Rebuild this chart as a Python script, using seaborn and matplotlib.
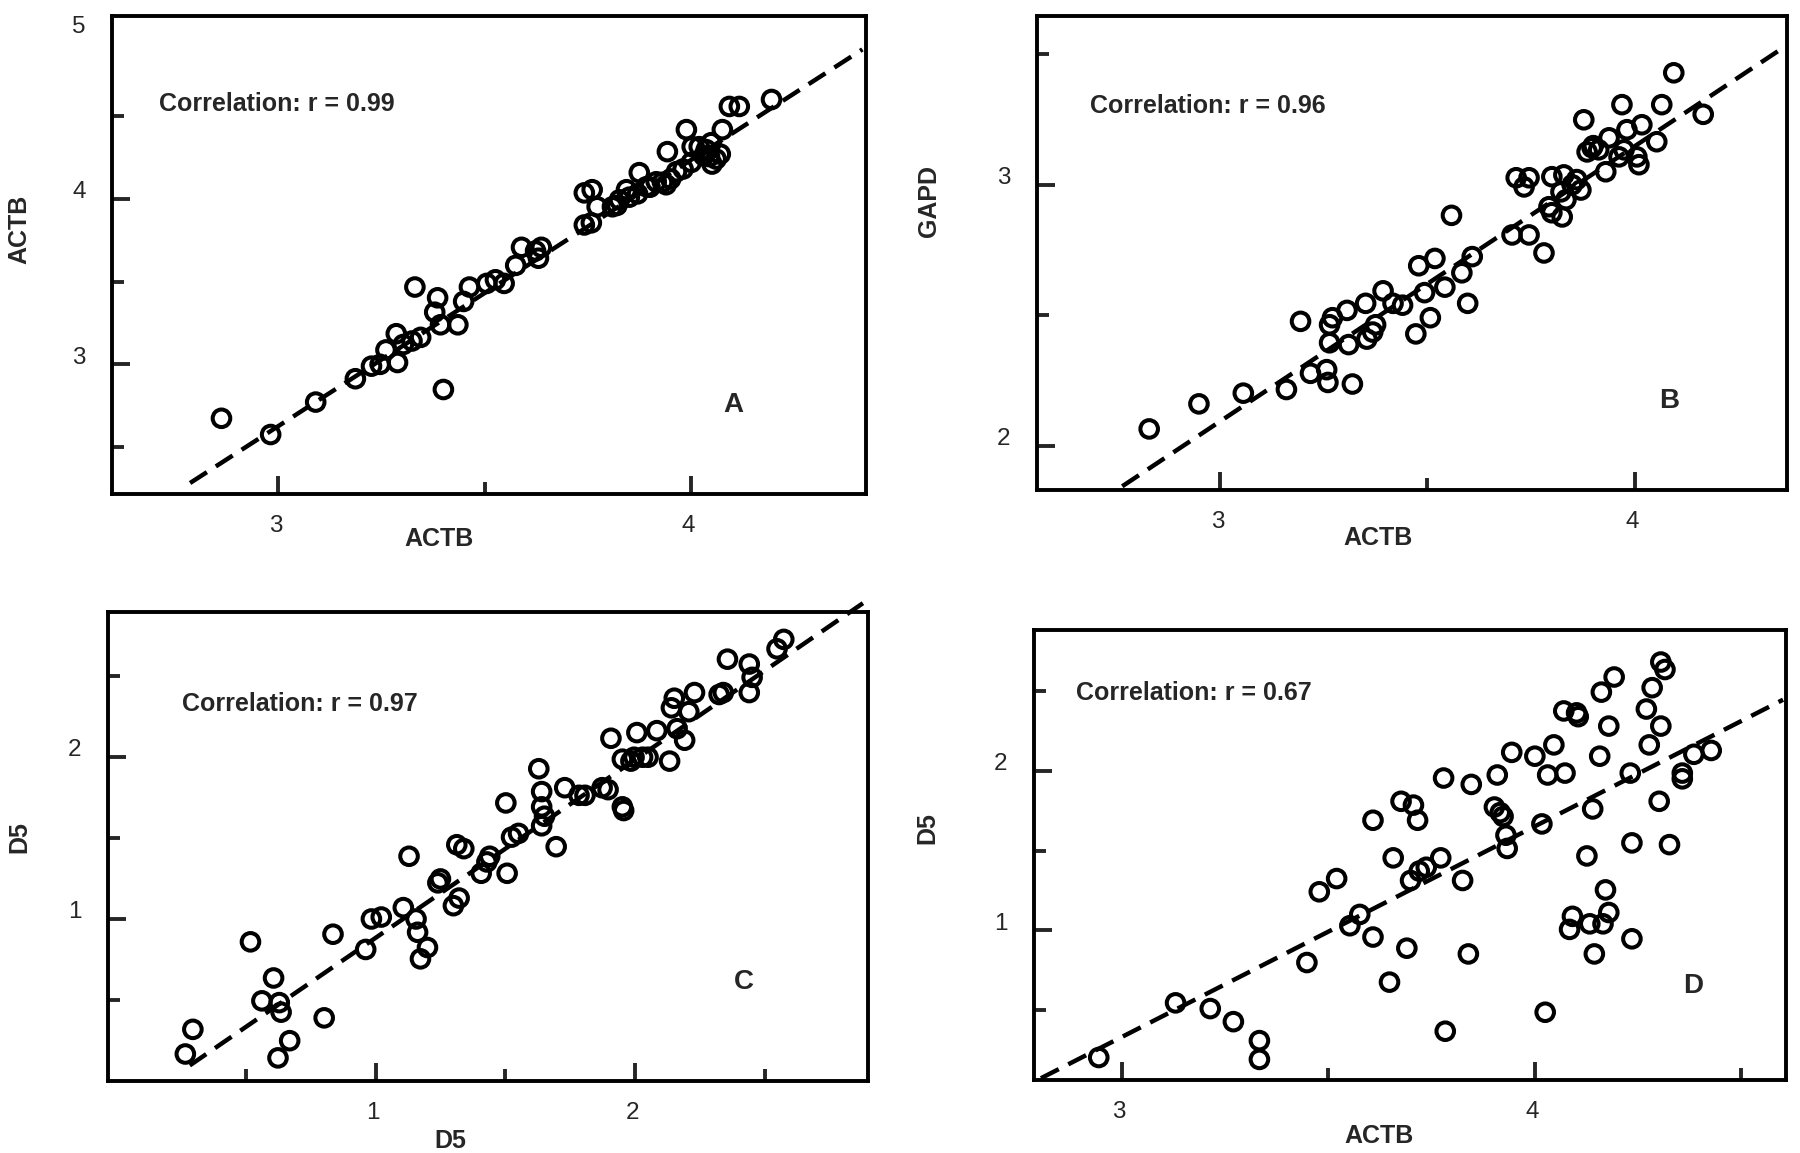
import numpy as np
import pandas as pd
import matplotlib
matplotlib.use("Agg")
import matplotlib.pyplot as plt
import matplotlib.transforms as mtransforms
import seaborn as sns

# ---- panel A: ACTB vs ACTB ----
a_x = [2.863, 2.982, 3.091, 3.187, 3.226, 3.247, 3.261, 3.289, 3.286, 3.303, 3.324, 3.345, 3.331, 3.386,
       3.379, 3.393, 3.435, 3.400, 3.449, 3.463, 3.505, 3.526, 3.547, 3.575, 3.589, 3.623, 3.630, 3.637,
       3.741, 3.760, 3.772, 3.741, 3.758, 3.809, 3.826, 3.843, 3.874, 3.891, 3.915, 3.939, 3.942, 3.964,
       3.988, 4.002, 4.019, 4.036, 4.044, 4.048, 4.075, 4.092, 4.116, 4.194,
       3.82, 3.85, 3.87, 3.90, 3.93, 3.95, 3.98, 4.00, 4.03, 4.06, 4.07, 4.05]
a_y = [2.674, 2.576, 2.772, 2.913, 2.989, 3.000, 3.087, 3.011, 3.185, 3.120, 3.141, 3.163, 3.467, 3.402,
       3.315, 3.239, 3.239, 2.848, 3.380, 3.467, 3.489, 3.511, 3.489, 3.598, 3.707, 3.685, 3.641, 3.707,
       4.036, 4.055, 3.952, 3.842, 3.855, 3.952, 3.994, 4.055, 4.158, 4.073, 4.103, 4.085, 4.285, 4.164,
       4.418, 4.315, 4.315, 4.297, 4.255, 4.339, 4.418, 4.558, 4.558, 4.600,
       3.96, 4.01, 4.03, 4.07, 4.10, 4.12, 4.18, 4.22, 4.26, 4.24, 4.27, 4.21]

# ---- panel B: GAPD vs ACTB ----
b_x = [2.829, 2.949, 3.056, 3.160, 3.194, 3.218, 3.257, 3.260, 3.319, 3.264, 3.264, 3.271, 3.306, 3.310,
       3.354, 3.351, 3.368, 3.375, 3.393, 3.417, 3.440, 3.472, 3.479, 3.493, 3.507, 3.518, 3.542, 3.558,
       3.583, 3.597, 3.608,
       4.094, 3.969, 4.065, 4.165, 3.877, 4.017, 3.981, 4.053, 3.938, 3.897, 3.885, 3.913, 3.974, 4.005,
       4.010, 3.930, 3.962, 3.714, 3.745, 3.733, 3.800, 3.829, 3.849, 3.822, 3.834, 3.793, 3.800, 3.825,
       3.704, 3.745, 3.781, 3.900, 3.860, 3.870]
b_y = [2.065, 2.161, 2.202, 2.216, 2.477, 2.278, 2.292, 2.243, 2.237, 2.395, 2.464, 2.491, 2.519, 2.388,
       2.409, 2.546, 2.436, 2.464, 2.594, 2.546, 2.539, 2.429, 2.690, 2.587, 2.491, 2.718, 2.608, 2.883,
       2.663, 2.546, 2.725,
       3.429, 3.307, 3.307, 3.270, 3.249, 3.230, 3.211, 3.165, 3.180, 3.142, 3.126, 3.134, 3.134, 3.107,
       3.077, 3.050, 3.107, 3.027, 3.027, 2.992, 3.031, 3.038, 3.000, 2.973, 2.943, 2.916, 2.893, 2.877,
       2.808, 2.808, 2.739, 3.150, 3.020, 2.980]

# ---- panel C: D5 vs D5 ----
c_x = [0.267, 0.296, 0.518, 0.562, 0.607, 0.629, 0.636, 0.624, 0.669, 0.802, 0.836, 0.962, 0.984, 1.022,
       1.107, 1.129, 1.156, 1.162, 1.200, 1.173, 1.240, 1.250, 1.300, 1.322, 1.313, 1.340, 1.407, 1.429,
       1.440, 1.507, 1.502, 1.524, 1.551, 1.629, 1.640, 1.640, 1.640, 1.651, 1.696, 1.729, 1.784, 1.807,
       1.873, 1.896, 1.951, 1.956, 1.907, 1.951, 1.984, 1.996, 2.007, 2.029, 2.050, 2.084, 2.133, 2.151,
       2.140, 2.162, 2.191, 2.207, 2.229, 2.324, 2.340, 2.356, 2.440, 2.440, 2.451, 2.547, 2.573]
c_y = [0.167, 0.319, 0.859, 0.495, 0.636, 0.484, 0.425, 0.143, 0.249, 0.390, 0.906, 0.812, 1.000, 1.012,
       1.070, 1.387, 1.000, 0.918, 0.824, 0.754, 1.223, 1.247, 1.082, 1.129, 1.458, 1.434, 1.282, 1.352,
       1.387, 1.282, 1.716, 1.505, 1.528, 1.927, 1.786, 1.692, 1.575, 1.634, 1.446, 1.810, 1.763, 1.763,
       1.810, 1.798, 1.692, 1.669, 2.115, 1.986, 1.974, 1.998, 2.150, 1.998, 1.998, 2.162, 1.974, 2.362,
       2.303, 2.174, 2.103, 2.279, 2.397, 2.385, 2.397, 2.603, 2.573, 2.397, 2.491, 2.667, 2.725]

# ---- panel D: D5 vs ACTB ----
d_x = [2.944, 3.130, 3.214, 3.270, 3.333, 3.333, 3.448, 3.478, 3.520, 3.552, 3.576, 3.608, 3.608, 3.648,
       3.657, 3.676, 3.690, 3.699, 3.706, 3.716, 3.720, 3.737, 3.772, 3.779, 3.783, 3.825, 3.839, 3.846,
       3.909, 3.902, 3.916, 3.923, 3.930, 3.933, 3.944, 4.000, 4.017, 4.025, 4.031, 4.046, 4.073, 4.070,
       4.101, 4.105, 4.084, 4.091, 4.126, 4.133, 4.140, 4.144, 4.157, 4.161, 4.165, 4.171, 4.179, 4.179,
       4.192, 4.231, 4.235, 4.235, 4.270, 4.277, 4.284, 4.301, 4.305, 4.305, 4.315, 4.326, 4.357, 4.357,
       4.385, 4.427]
d_y = [0.201, 0.544, 0.508, 0.426, 0.307, 0.189, 0.797, 1.241, 1.324, 1.028, 1.099, 0.957, 1.690, 0.674,
       1.454, 1.809, 0.887, 1.312, 1.785, 1.690, 1.371, 1.395, 1.454, 1.955, 0.366, 1.312, 0.851, 1.915,
       1.974, 1.773, 1.738, 1.714, 1.596, 1.513, 2.116, 2.092, 1.667, 0.485, 1.974, 2.163, 1.986, 2.376,
       2.364, 2.340, 1.005, 1.087, 1.466, 1.040, 1.761, 0.851, 2.092, 2.494, 1.040, 1.253, 1.111, 2.281,
       2.589, 1.986, 1.548, 0.946, 2.388, 2.163, 2.522, 1.809, 2.281, 2.683, 2.636, 1.537, 1.986, 1.950,
       2.104, 2.128]

# regression lines as drawn in the figure: slope, intercept, x start, x end
a_fit = (1.610, -2.204, 2.787, 4.414)
b_fit = (1.054, -1.068, 2.764, 4.368)
c_fit = (1.0995, -0.216, 0.284, 2.878)
d_fit = (1.322, -3.636, 2.804, 4.601)

r_values = ["0.99", "0.96", "0.97", "0.67"]
letters = ["A", "B", "C", "D"]
xlabels = ["ACTB", "ACTB", "D5", "ACTB"]
ylabels = ["ACTB", "GAPD", "D5", "D5"]

sns.set_style("white")
plt.rcParams['font.family'] = ['Liberation Sans', 'DejaVu Sans']

fig = plt.figure(figsize=(18, 11.53), dpi=100)

panels = [
    dict(x=a_x, y=a_y, fit=a_fit, rect=[0.0622, 0.5716, 0.419, 0.4146],
         xlim=(2.598, 4.423), ylim=(2.217, 5.105),
         xt=[3, 4], xm=[3.5], yt=[3, 4, 5], ym=[2.5, 3.5, 4.5],
         txt=(0.062, 0.816), let=(0.824, 0.186), xl=(0.433, -0.094), yl=(-0.123, 0.554)),
    dict(x=b_x, y=b_y, fit=b_fit, rect=[0.576, 0.575, 0.417, 0.411],
         xlim=(2.558, 4.368), ylim=(1.831, 3.646),
         xt=[3, 4], xm=[3.5], yt=[2, 3], ym=[2.5, 3.5],
         txt=(0.071, 0.81), let=(0.843, 0.188), xl=(0.455, -0.101), yl=(-0.144, 0.61)),
    dict(x=c_x, y=c_y, fit=c_fit, rect=[0.06, 0.0624, 0.422, 0.4068],
         xlim=(-0.031, 2.896), ylim=(0.0, 2.894),
         xt=[1, 2], xm=[0.5, 1.5, 2.5], yt=[1, 2], ym=[0.5, 1.5, 2.5],
         txt=(0.097, 0.804), let=(0.837, 0.211), xl=(0.45, -0.128), yl=(-0.117, 0.52)),
    dict(x=d_x, y=d_y, fit=d_fit, rect=[0.5744, 0.0632, 0.4178, 0.3904],
         xlim=(2.787, 4.608), ylim=(0.059, 2.884),
         xt=[3, 4], xm=[3.5, 4.5], yt=[1, 2], ym=[0.5, 1.5, 2.5],
         txt=(0.056, 0.861), let=(0.876, 0.209), xl=(0.459, -0.125), yl=(-0.142, 0.559)),
]

# tick labels in the original sit a little above / left of their ticks
lift = mtransforms.ScaledTranslation(-2 / 72, 6.5 / 72, fig.dpi_scale_trans)
nudge = mtransforms.ScaledTranslation(-2 / 72, 0, fig.dpi_scale_trans)

for i, p in enumerate(panels):
    ax = fig.add_axes(p["rect"])
    df = pd.DataFrame({"x": p["x"], "y": p["y"]})
    sns.scatterplot(data=df, x="x", y="y", ax=ax, marker="o", s=160,
                    facecolor="none", edgecolor="black", color="black", linewidth=2.9)
    slope, icpt, x0, x1 = p["fit"]
    fx = np.array([x0, x1])
    ax.plot(fx, slope * fx + icpt, color="black", lw=3.2, dashes=(4.5, 2.4), clip_on=False)

    ax.set_xlim(*p["xlim"])
    ax.set_ylim(*p["ylim"])
    ax.set_xticks(p["xt"])
    ax.set_xticklabels([str(v) for v in p["xt"]])
    ax.set_xticks(p["xm"], minor=True)
    ax.set_yticks(p["yt"])
    ax.set_yticklabels([str(v) for v in p["yt"]])
    ax.set_yticks(p["ym"], minor=True)
    ax.tick_params(which="major", direction="in", length=13, width=2.8, labelsize=17.5)
    ax.tick_params(which="minor", direction="in", length=8.5, width=2.8)
    ax.tick_params(axis="x", which="both", pad=15, bottom=True, top=False)
    ax.tick_params(axis="y", which="both", pad=17, left=True, right=False)
    for lab in ax.get_yticklabels():
        lab.set_transform(lab.get_transform() + lift)
    for lab in ax.get_xticklabels():
        lab.set_transform(lab.get_transform() + nudge)
    # the top label of panel A sits on the frame, without a tick mark
    for v, tk in zip(p["yt"], ax.yaxis.get_major_ticks()):
        if v > p["ylim"][1] - 0.15:
            tk.tick1line.set_visible(False)
    for sp in ax.spines.values():
        sp.set_linewidth(2.8)
        sp.set_color("black")

    ax.set_xlabel("")
    ax.set_ylabel("")
    ax.text(p["xl"][0], p["xl"][1], xlabels[i], transform=ax.transAxes, ha="center", va="center",
            fontsize=18, fontweight="bold")
    ax.text(p["yl"][0], p["yl"][1], ylabels[i], transform=ax.transAxes, ha="center", va="center",
            fontsize=18, fontweight="bold", rotation=90)
    ax.text(p["txt"][0], p["txt"][1], "Correlation: r = " + r_values[i], transform=ax.transAxes,
            ha="left", va="center", fontsize=18, fontweight="bold")
    ax.text(p["let"][0], p["let"][1], letters[i], transform=ax.transAxes, ha="center", va="center",
            fontsize=20, fontweight="bold")

fig.savefig("out.png", dpi=100, facecolor="white")
